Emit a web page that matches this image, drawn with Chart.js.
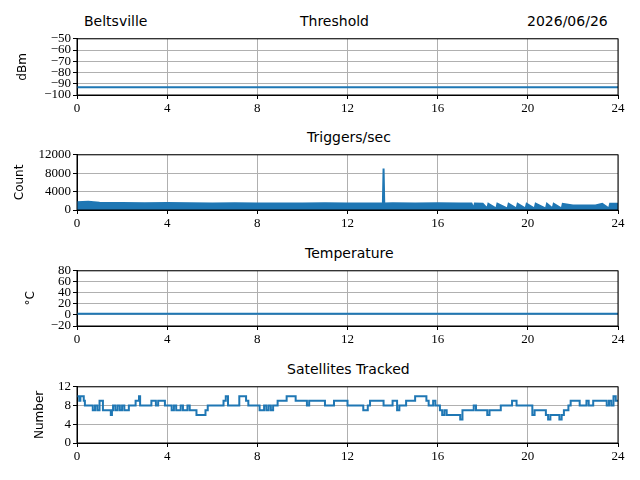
<!DOCTYPE html>
<html><head><meta charset="utf-8">
<script src="https://cdn.jsdelivr.net/npm/chart.js@4"></script>
<style>
body{margin:0;width:640px;height:480px;background:#fff;position:relative;font-family:"DejaVu Sans",sans-serif;overflow:hidden}
canvas{position:absolute;left:0}
.t{position:absolute;font-size:14px;color:#000;white-space:nowrap}
</style></head><body>
<div class="t" style="left:84px;top:13px">Beltsville</div>
<div class="t" style="left:300px;top:13px">Threshold</div>
<div class="t" style="left:527px;top:13px">2026/06/26</div>
<div class="t" style="left:307px;top:129px">Triggers/sec</div>
<div class="t" style="left:305px;top:245px">Temperature</div>
<div class="t" style="left:287px;top:361px">Satellites Tracked</div>
<div style="position:absolute;left:0;top:29px;width:640px;height:88px"><canvas id="c1"></canvas></div>
<div style="position:absolute;left:0;top:145px;width:640px;height:87px"><canvas id="c2"></canvas></div>
<div style="position:absolute;left:0;top:261px;width:640px;height:87px"><canvas id="c3"></canvas></div>
<div style="position:absolute;left:0;top:377px;width:640px;height:88px"><canvas id="c4"></canvas></div>
<script>
// Dados (hora, valor)
const limiar = [[0,-93],[6,-93],[12,-93],[18,-93],[24,-93]];

const gatilhos = [[0,1700],[0.5,1800],[1,1600],[2,1500],[3,1450],[4,1500],[5,1450],[6,1400],[7,1450],[8,1400],
  [9,1400],[10,1400],[11,1450],[12,1400],[13,1400],[13.57,1400],[13.6,9000],[13.63,1400],[14,1450],[15,1400],
  [16,1450],[17,1400],[17.5,1400],[17.6,300],[17.65,1400],[18,1350],[18.2,300],[18.25,1350],[18.6,300],[18.65,1350],
  [19.1,300],[19.15,1350],[19.5,300],[19.55,1350],[19.9,300],[19.95,1350],[20.3,300],[20.35,1350],[20.8,300],[20.85,1350],
  [21.1,300],[21.15,1350],[21.5,300],[21.55,1350],[22,1000],[23,1000],[23.3,1350],[23.6,300],[23.65,1350],[24,1350]];

const temperatura = [[0,2],[6,2],[12,2],[18,2],[24,2]];

const satelites = [[0,10],[0.1,9],[0.15,10],[0.3,9],[0.35,8],[0.5,8],[0.7,7],[0.8,8],[0.9,7],[1.0,9],[1.15,7],
  [1.5,6],[1.55,7],[1.6,8],[1.7,7],[1.8,8],[1.9,7],[2.0,8],[2.1,7],[2.3,8],[2.6,9],[2.75,10],[2.8,8],[3.1,8],
  [3.3,9],[3.5,8],[3.6,9],[3.9,8],[4.2,7],[4.3,8],[4.4,7],[4.6,8],[4.7,7],[4.9,8],[5.0,7],[5.3,6],[5.7,7],[5.8,8],
  [6.5,9],[6.6,10],[6.7,8],[7.0,8],[7.2,10],[7.5,9],[7.6,8],[8.0,8],[8.1,7],[8.3,8],[8.4,7],[8.5,8],[8.6,7],
  [8.7,8],[8.9,9],[9.3,10],[9.7,9],[10.2,8],[10.3,9],[11.0,8],[11.4,9],[12.0,8],[12.5,8],[12.7,7],[12.9,8],[13.0,9],
  [13.6,8],[14.0,9],[14.2,7],[14.3,8],[14.5,8],[14.6,9],[15.0,10],[15.5,9],[15.6,8],[15.8,9],[15.9,8],[16.1,7],
  [16.2,6],[16.3,7],[16.4,6],[17.0,5],[17.1,7],[17.6,8],[17.7,7],[18.0,7],[18.2,6],[18.3,7],[18.8,8],[19.3,9],
  [19.5,8],[20.0,8],[20.2,6],[20.3,7],[20.8,6],[20.9,5],[21.0,6],[21.4,5],[21.5,6],[21.6,7],[21.8,8],[21.9,9],
  [22.3,8],[22.6,9],[22.7,8],[22.9,9],[23.5,8],[23.6,9],[23.7,8],[23.8,10],[23.9,9],[24,9]];

const cor = '#1f77b4';
const fonteTick = {family: 'Liberation Serif', size: 13};

function criarGrafico(id, dados, ymin, ymax, passo, titulo, esq, opcoes) {
  opcoes = opcoes || {};
  return new Chart(document.getElementById(id), {
    type: 'line',
    data: {
      datasets: [{
        data: dados.map(p => ({x: p[0], y: p[1]})),
        borderColor: cor,
        backgroundColor: cor,
        borderWidth: 2,
        pointRadius: 0,
        fill: opcoes.fill || false,
        stepped: opcoes.stepped || false,
        tension: 0
      }]
    },
    options: {
      responsive: true,
      maintainAspectRatio: false,
      animation: false,
      layout: {padding: {top: 8, right: 22, left: esq, bottom: 0}},
      plugins: {legend: {display: false}, tooltip: {enabled: false}},
      scales: {
        x: {
          type: 'linear', min: 0, max: 24,
          ticks: {stepSize: 4, color: '#000', font: fonteTick, maxRotation: 0, padding: 2},
          grid: {color: '#b0b0b0', tickColor: '#000', tickLength: 4},
          border: {color: '#000', width: 1},
          afterFit: s => { s.height = 22; }
        },
        y: {
          min: ymin, max: ymax,
          ticks: {stepSize: passo, autoSkip: false, color: '#000', font: fonteTick, padding: 2,
                  callback: v => String(v).replace('-', '\u2212')},
          grid: {color: '#b0b0b0', tickColor: '#000', tickLength: 4},
          border: {color: '#000', width: 1},
          title: {display: true, text: titulo, color: '#000', font: {family: 'DejaVu Sans', size: 12}, padding: 0},
          afterFit: s => { s.width = 77 - esq; }
        }
      }
    },
    plugins: [{
      id: 'moldura',
      afterDraw: c => {
        const a = c.chartArea, g = c.ctx;
        g.save(); g.strokeStyle = '#000'; g.lineWidth = 1;
        g.strokeRect(a.left, a.top, a.right - a.left, a.bottom - a.top);
        g.restore();
      }
    }]
  });
}

criarGrafico('c1', limiar, -100, -50, 10, 'dBm', 16);
criarGrafico('c2', gatilhos, 0, 12000, 4000, 'Count', 13, {fill: 'origin'});
criarGrafico('c3', temperatura, -20, 80, 20, '\u00b0C', 24);
criarGrafico('c4', satelites, 0, 12, 4, 'Number', 33, {stepped: true});
</script>
</body></html>
